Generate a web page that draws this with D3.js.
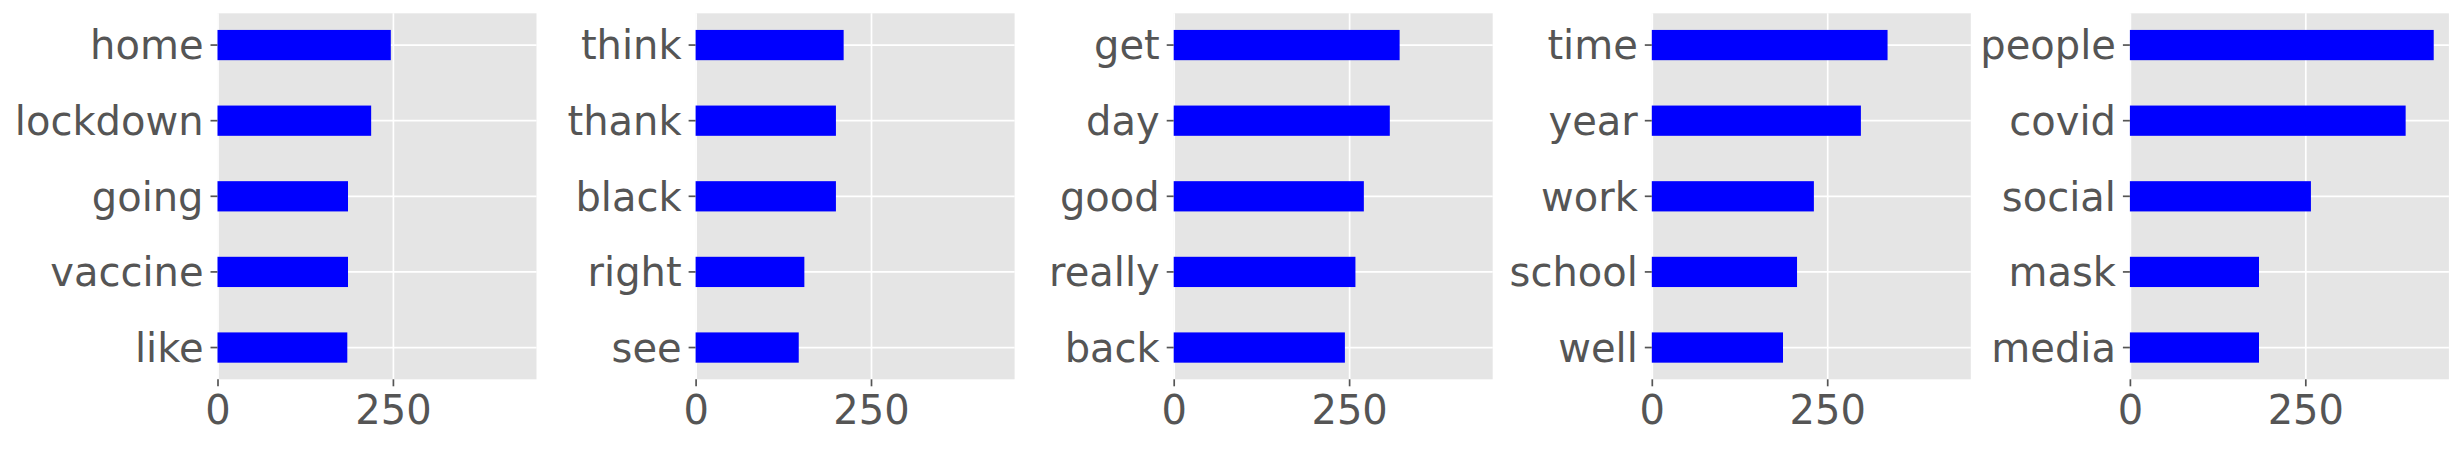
<!DOCTYPE html>
<html>
<head>
<meta charset="utf-8">
<script src="https://cdn.jsdelivr.net/npm/d3@7"></script>
<style>
  body { margin: 0; background: #fff; }
  text { font-family: "DejaVu Sans", sans-serif; }
</style>
</head>
<body>
<svg width="2463" height="449"></svg>
<script>
// top-to-bottom word order for each panel, with their counts
const words1 = ['home', 'lockdown', 'going', 'vaccine', 'like'];
const counts1 = [247, 219, 186, 186, 185];
const words2 = ['think', 'thank', 'black', 'right', 'see'];
const counts2 = [211, 200, 200, 155, 147];
const words3 = ['get', 'day', 'good', 'really', 'back'];
const counts3 = [322, 308, 271, 259, 244];
const words4 = ['time', 'year', 'work', 'school', 'well'];
const counts4 = [336, 298, 231, 207, 187];
const words5 = ['people', 'covid', 'social', 'mask', 'media'];
const counts5 = [433, 393, 258, 184, 184];
const xTicks = [0, 250];

const panels = [
  [words1, counts1], [words2, counts2], [words3, counts3],
  [words4, counts4], [words5, counts5]
];

const svg = d3.select('svg');
const firstLeft = 217.5;
const stride = 478.1;
const plotTop = 13.3;
const innerWidth = 319;
const innerHeight = 366;
const labelColor = '#555555';
const fontSize = 40;

// shared x axis (matplotlib sharex: max * 1.05)
const xMax = d3.max(panels, p => d3.max(p[1])) * 1.05;
const xScale = d3.scaleLinear().domain([0, xMax]).range([0, innerWidth]);

panels.forEach(([words, counts], i) => {
  const data = words.map((w, j) => ({ word: w, count: counts[j] }));
  const g = svg.append('g')
    .attr('transform', `translate(${firstLeft + i * stride}, ${plotTop})`);

  const yScale = d3.scaleBand()
    .domain(words)
    .range([0, innerHeight])
    .paddingInner(0.6)
    .paddingOuter(0.22);

  g.append('rect')
    .attr('width', innerWidth)
    .attr('height', innerHeight)
    .attr('fill', '#e5e5e5');

  // grid
  const xGrid = g.append('g')
    .call(d3.axisBottom(xScale).tickValues(xTicks).tickSize(innerHeight).tickFormat(''));
  const yGrid = g.append('g')
    .call(d3.axisLeft(yScale).tickSize(-innerWidth).tickFormat(''));
  [xGrid, yGrid].forEach(gr => {
    gr.select('.domain').remove();
    gr.selectAll('text').remove();
    gr.selectAll('line').attr('stroke', '#ffffff').attr('stroke-width', 1.7);
  });

  g.selectAll('.bar').data(data)
    .enter().append('rect')
    .attr('class', 'bar')
    .attr('x', xScale(0))
    .attr('y', d => yScale(d.word))
    .attr('width', d => xScale(d.count) - xScale(0))
    .attr('height', yScale.bandwidth())
    .attr('fill', '#0000ff');

  const xAxisG = g.append('g')
    .attr('transform', `translate(0, ${innerHeight})`)
    .call(d3.axisBottom(xScale).tickValues(xTicks).tickSize(7).tickPadding(9));
  const yAxisG = g.append('g')
    .call(d3.axisLeft(yScale).tickSize(7).tickPadding(7));

  [xAxisG, yAxisG].forEach(ax => {
    ax.select('.domain').remove();
    ax.selectAll('line').attr('stroke', labelColor).attr('stroke-width', 1.7);
    ax.selectAll('text')
      .attr('fill', labelColor)
      .style('font-size', fontSize + 'px')
      .style('font-family', '"DejaVu Sans", sans-serif');
  });
  yAxisG.selectAll('text').attr('dy', '0.36em');
});
</script>
</body>
</html>
